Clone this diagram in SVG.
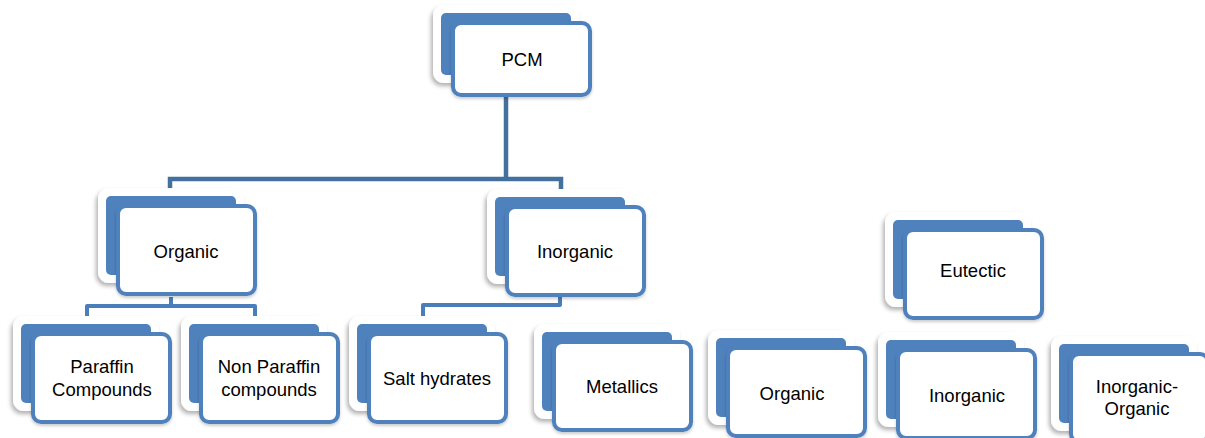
<svg xmlns="http://www.w3.org/2000/svg" width="1205" height="438" viewBox="0 0 1205 438">
<defs>
<filter id="sh" x="-20%" y="-20%" width="140%" height="150%">
<feDropShadow dx="-2" dy="3" stdDeviation="2.2" flood-color="#000" flood-opacity="0.3"/>
</filter>
<filter id="sh2" x="-20%" y="-20%" width="140%" height="150%">
<feDropShadow dx="0" dy="2" stdDeviation="1.5" flood-color="#000" flood-opacity="0.2"/>
</filter>
</defs>
<style>
.halo{fill:#ffffff;filter:url(#sh)}
.back{fill:#4F81BD}
.front{fill:#ffffff;stroke:#4F81BD;stroke-width:4;filter:url(#sh2)}
.lbl{font-family:"Liberation Sans",Arial,sans-serif;font-size:18.5px;fill:#000;text-anchor:middle}
.c1{fill:none;stroke:#41719C;stroke-width:4.5}
.c2{fill:none;stroke:#4A7EBB;stroke-width:4;stroke-linejoin:round}
</style>
<rect width="1205" height="438" fill="#ffffff"/>
<g id="connectors">
<path class="c1" d="M506 97 V179 M170 205 V179 H561 V205"/>
<path class="c2" d="M171 297 V306 M87 330 V306 H255 V330"/>
<path class="c2" d="M560 297 V305 H423 V330"/>
</g>
<g id="pcm">
<rect class="halo" x="433" y="5" width="146" height="78" rx="11"/>
<rect class="back" x="441" y="13" width="130" height="62" rx="5"/>
<rect class="front" x="453" y="23" width="137" height="72" rx="8"/>
<text class="lbl" x="522" y="66">PCM</text>
</g>
<g id="organic">
<rect class="halo" x="98" y="188" width="146" height="95" rx="11"/>
<rect class="back" x="106" y="196" width="130" height="79" rx="5"/>
<rect class="front" x="118" y="206" width="137" height="88" rx="8"/>
<text class="lbl" x="186" y="258">Organic</text>
</g>
<g id="inorganic">
<rect class="halo" x="487" y="189" width="146" height="95" rx="11"/>
<rect class="back" x="495" y="197" width="130" height="79" rx="5"/>
<rect class="front" x="507" y="207" width="137" height="88" rx="8"/>
<text class="lbl" x="575" y="258">Inorganic</text>
</g>
<g id="paraffin">
<rect class="halo" x="13" y="316" width="146" height="95" rx="11"/>
<rect class="back" x="21" y="324" width="130" height="79" rx="5"/>
<rect class="front" x="33" y="334" width="137" height="88" rx="8"/>
<text class="lbl" x="102" y="373">Paraffin</text>
<text class="lbl" x="102" y="396">Compounds</text>
</g>
<g id="nonparaffin">
<rect class="halo" x="181" y="316" width="146" height="95" rx="11"/>
<rect class="back" x="189" y="324" width="130" height="79" rx="5"/>
<rect class="front" x="201" y="334" width="137" height="88" rx="8"/>
<text class="lbl" x="269" y="373">Non Paraffin</text>
<text class="lbl" x="269" y="396">compounds</text>
</g>
<g id="salthydrates">
<rect class="halo" x="349" y="316" width="146" height="95" rx="11"/>
<rect class="back" x="357" y="324" width="130" height="79" rx="5"/>
<rect class="front" x="369" y="334" width="137" height="88" rx="8"/>
<text class="lbl" x="437" y="385">Salt hydrates</text>
</g>
<g id="metallics">
<rect class="halo" x="534" y="324" width="146" height="95" rx="11"/>
<rect class="back" x="542" y="332" width="130" height="79" rx="5"/>
<rect class="front" x="554" y="342" width="137" height="88" rx="8"/>
<text class="lbl" x="622" y="393">Metallics</text>
</g>
<g id="eutectic">
<rect class="halo" x="885" y="212" width="146" height="95" rx="11"/>
<rect class="back" x="893" y="220" width="130" height="79" rx="5"/>
<rect class="front" x="905" y="230" width="137" height="88" rx="8"/>
<text class="lbl" x="973" y="277">Eutectic</text>
</g>
<g id="eutectic-organic">
<rect class="halo" x="708" y="330" width="146" height="95" rx="11"/>
<rect class="back" x="716" y="338" width="130" height="79" rx="5"/>
<rect class="front" x="728" y="348" width="137" height="88" rx="8"/>
<text class="lbl" x="792" y="400">Organic</text>
</g>
<g id="eutectic-inorganic">
<rect class="halo" x="878" y="332" width="146" height="95" rx="11"/>
<rect class="back" x="886" y="340" width="130" height="79" rx="5"/>
<rect class="front" x="898" y="350" width="137" height="88" rx="8"/>
<text class="lbl" x="967" y="402">Inorganic</text>
</g>
<g id="eutectic-inorganic-organic">
<rect class="halo" x="1051" y="336" width="146" height="95" rx="11"/>
<rect class="back" x="1059" y="344" width="130" height="79" rx="5"/>
<rect class="front" x="1071" y="354" width="137" height="88" rx="8"/>
<text class="lbl" x="1137" y="393">Inorganic-</text>
<text class="lbl" x="1137" y="415">Organic</text>
</g>
</svg>
